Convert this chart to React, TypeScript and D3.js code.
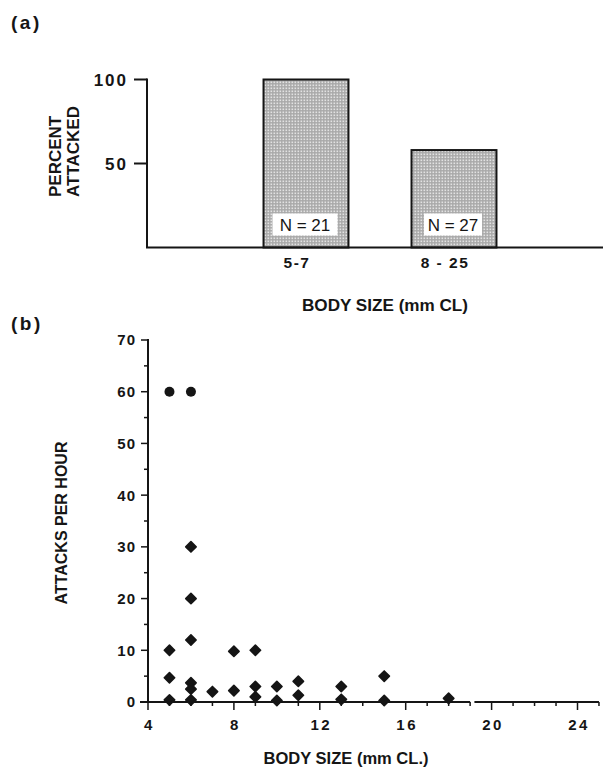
import React from "react";
import * as d3 from "d3";

// Panel (a)
const categories = ["5-7", "8 - 25"];
const percentAttacked = [100, 58];
const sampleSizes = [21, 27];
const aTicks = [50, 100];

// Panel (b)
const bodySize = [5, 5, 5, 5, 6, 6, 6, 6, 6, 6, 6, 7, 8, 8, 9, 9, 9, 10, 10, 11, 11, 13, 13, 15, 15, 18];
const attacksPerHour = [60, 10, 4.7, 0.4, 60, 30, 20, 12, 3.7, 2.5, 0.4, 2, 9.8, 2.2, 10, 3, 1, 3, 0.3, 4, 1.3, 3, 0.5, 5, 0.3, 0.7];
const xTicksB = [4, 8, 12, 16, 20, 24];
const yTicksB = [0, 10, 20, 30, 40, 50, 60, 70];

const FONT = "'Liberation Sans', Arial, Helvetica, sans-serif";
const INK = "#151515";

export default function App() {
  // Panel a scales
  const xA = d3.scaleBand<string>().domain(categories).range([232, 528]).paddingInner(0.426).paddingOuter(0.213);
  const yA = d3.scaleLinear().domain([0, 100]).range([247.5, 79.5]);

  // Panel b scales
  const xB = d3.scaleLinear().domain([4, 24]).range([148, 577.5]);
  const yB = d3.scaleLinear().domain([0, 70]).range([702, 340]);
  const minorX = d3.range(4, 26, 1).filter((v) => v % 4 !== 0);
  const minorY = d3.range(5, 70, 10);
  const diamond = (cx: number, cy: number, r: number) =>
    `M${cx},${cy - r}L${cx + r},${cy}L${cx},${cy + r}L${cx - r},${cy}Z`;

  return (
    <svg width={603} height={769} style={{ position: "absolute", left: 0, top: 0, background: "#fff" }} fontFamily={FONT}>
      <defs>
        <pattern id="stip" width={3} height={3} patternUnits="userSpaceOnUse">
          <rect width={3} height={3} fill="#a9a9a9" />
          <rect x={0.5} y={0.5} width={1.6} height={1.6} fill="#e2e2e2" />
        </pattern>
      </defs>

      {/* Panel (a) */}
      <text x={11} y={29} fontSize={19} fontWeight="bold" fill={INK} letterSpacing={2.5}>(a)</text>
      <g transform="translate(61,197) rotate(-90)">
        <text x={0} y={0} fontSize={17} fontWeight="bold" fill={INK}>PERCENT</text>
        <text x={0} y={18} fontSize={17} fontWeight="bold" fill={INK}>ATTACKED</text>
      </g>
      {percentAttacked.map((v, i) => {
        const x = xA(categories[i])!;
        const w = xA.bandwidth();
        const cx = x + w / 2;
        const boxW = i === 0 ? 65 : 58;
        const boxBottom = yA(0) - 12;
        return (
          <g key={categories[i]}>
            <rect x={x} y={yA(v)} width={w} height={yA(0) - yA(v)} fill="url(#stip)" stroke={INK} strokeWidth={2} />
            <rect x={cx - boxW / 2 - 1} y={boxBottom - 22} width={boxW} height={22} fill="#fff" />
            <text x={cx - 1} y={boxBottom - 5} fontSize={17} fill={INK} textAnchor="middle">{`N = ${sampleSizes[i]}`}</text>
            <text x={cx - 9} y={268} fontSize={15.5} fontWeight="bold" fill={INK} textAnchor="middle" letterSpacing={1.5}>{categories[i]}</text>
          </g>
        );
      })}
      <line x1={147} x2={147} y1={yA(100) - 1} y2={yA(0)} stroke={INK} strokeWidth={2} />
      <line x1={146} x2={603} y1={yA(0)} y2={yA(0)} stroke={INK} strokeWidth={2} />
      {aTicks.map((t) => (
        <g key={t}>
          <line x1={134} x2={147} y1={yA(t)} y2={yA(t)} stroke={INK} strokeWidth={2} />
          <text x={128} y={yA(t)} dy="0.36em" fontSize={17} fontWeight="bold" fill={INK} textAnchor="end" letterSpacing={2}>{t}</text>
        </g>
      ))}
      <text x={385} y={311} fontSize={16} fontWeight="bold" fill={INK} textAnchor="middle" textLength={166} lengthAdjust="spacingAndGlyphs">BODY SIZE (mm CL)</text>

      {/* Panel (b) */}
      <text x={11} y={330} fontSize={19} fontWeight="bold" fill={INK} letterSpacing={2.5}>(b)</text>
      <text transform={`translate(67,523) rotate(-90)`} fontSize={16} fontWeight="bold" fill={INK} textAnchor="middle">ATTACKS PER HOUR</text>
      <line x1={xB(4)} x2={xB(4)} y1={yB(70) - 1} y2={yB(0)} stroke={INK} strokeWidth={2} />
      <line x1={140} x2={xB(19)} y1={yB(0)} y2={yB(0)} stroke={INK} strokeWidth={2} />
      <line x1={xB(19.2)} x2={xB(25)} y1={yB(0)} y2={yB(0)} stroke={INK} strokeWidth={2} />
      {yTicksB.map((t) => (
        <g key={t}>
          <line x1={141} x2={xB(4)} y1={yB(t)} y2={yB(t)} stroke={INK} strokeWidth={1.5} />
          <text x={136} y={yB(t)} dy="0.36em" fontSize={15} fontWeight="bold" fill={INK} textAnchor="end" letterSpacing={1}>{t}</text>
        </g>
      ))}
      {minorY.map((t) => (
        <line key={t} x1={144} x2={xB(4)} y1={yB(t)} y2={yB(t)} stroke={INK} strokeWidth={1.5} />
      ))}
      {xTicksB.map((t) => (
        <g key={t}>
          <line x1={xB(t)} x2={xB(t)} y1={yB(0)} y2={yB(0) + 8} stroke={INK} strokeWidth={1.5} />
          <text x={xB(t) + 1.5} y={730} fontSize={15} fontWeight="bold" fill={INK} textAnchor="middle" letterSpacing={2.5}>{t}</text>
        </g>
      ))}
      {minorX.map((t) => (
        <line key={t} x1={xB(t)} x2={xB(t)} y1={yB(0)} y2={yB(0) + 4} stroke={INK} strokeWidth={1.5} />
      ))}
      {bodySize.map((b, i) => {
        const cx = xB(b);
        const cy = yB(attacksPerHour[i]);
        return attacksPerHour[i] >= 50 ? (
          <circle key={i} cx={cx} cy={cy} r={5} fill={INK} />
        ) : (
          <path key={i} d={diamond(cx, cy, 5.2)} fill={INK} stroke={INK} strokeWidth={1.6} strokeLinejoin="round" />
        );
      })}
      <text x={346} y={764} fontSize={16} fontWeight="bold" fill={INK} textAnchor="middle" textLength={165} lengthAdjust="spacingAndGlyphs">BODY SIZE (mm CL.)</text>
    </svg>
  );
}
